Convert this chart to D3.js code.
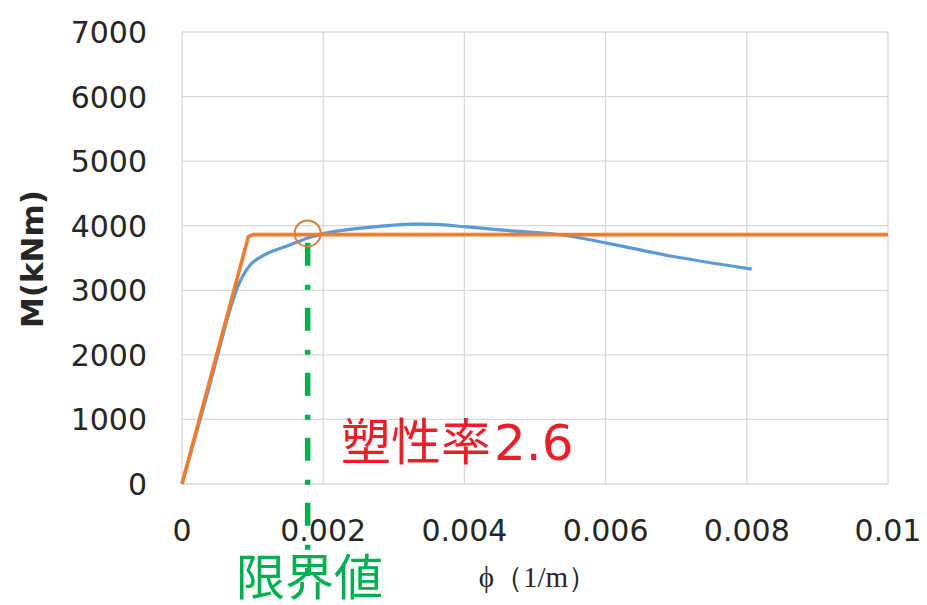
<!DOCTYPE html>
<html><head><meta charset="utf-8">
<script src="https://cdn.jsdelivr.net/npm/d3@7"></script>
<style>body{margin:0;background:#fff}</style>
</head><body>
<svg id="c" width="927" height="605"></svg>
<script>
// data
const xTicks = [0, 0.002, 0.004, 0.006, 0.008, 0.01];
const xTickLabels = ["0", "0.002", "0.004", "0.006", "0.008", "0.01"];
const yTicks = [0, 1000, 2000, 3000, 4000, 5000, 6000, 7000];
const bluePhi = [0, 0.0004, 0.00068, 0.00082, 0.00099, 0.00122, 0.00146, 0.00167, 0.00178, 0.0021, 0.0025, 0.003, 0.0033, 0.0036, 0.004, 0.0045, 0.00535, 0.006, 0.0069, 0.00807];
const blueM   = [0, 1560, 2700, 3133, 3420, 3578, 3675, 3763, 3810, 3900, 3960, 4010, 4025, 4020, 3985, 3935, 3860, 3735, 3535, 3328];
const orangePhi = [0, 0.00094, 0.00101, 0.01];
const orangeM   = [0, 3830, 3862, 3862];
const limitPhi = 0.00178;
const limitM = 3830;
const ductLabel = ["塑性率", "2.6"];
const limitLabel = "限界値";
const xTitle = "ϕ（1/m）";
const yTitle = "M(kNm)";

const svg = d3.select("#c");
const L = 182, R = 888, T = 32, B = 484;
const x = d3.scaleLinear().domain([0, 0.01]).range([L, R]);
const y = d3.scaleLinear().domain([0, 7000]).range([B, T]);

// grid
svg.append("g").selectAll("line").data(yTicks).join("line")
  .attr("x1", L).attr("x2", R).attr("y1", d => y(d)).attr("y2", d => y(d))
  .attr("stroke", "#d9d9d9").attr("stroke-width", 1.3);
svg.append("g").selectAll("line").data(xTicks).join("line")
  .attr("x1", d => x(d)).attr("x2", d => x(d)).attr("y1", T).attr("y2", B)
  .attr("stroke", "#d9d9d9").attr("stroke-width", 1.3);

// tick labels
svg.append("g").selectAll("text").data(yTicks).join("text")
  .attr("x", 147).attr("y", d => y(d) + 11)
  .attr("text-anchor", "end").attr("font-family", "DejaVu Sans").attr("font-size", 30)
  .attr("fill", "#262626").text(d => d);
svg.append("g").selectAll("text").data(xTicks).join("text")
  .attr("x", d => x(d)).attr("y", 541)
  .attr("text-anchor", "middle").attr("font-family", "DejaVu Sans").attr("font-size", 30)
  .attr("fill", "#262626").text((d, i) => xTickLabels[i]);

// titles
svg.append("text").attr("transform", "translate(43,259) rotate(-90)")
  .attr("text-anchor", "middle").attr("font-family", "DejaVu Sans").attr("font-weight", "bold")
  .attr("font-size", 31).attr("fill", "#262626").text(yTitle);
svg.append("text").attr("x", 538).attr("y", 587).attr("text-anchor", "middle")
  .attr("font-family", "Liberation Serif, DejaVu Serif").attr("font-size", 29).attr("fill", "#262626").text(xTitle);

// lines
svg.append("path").datum(bluePhi.map((p, i) => [p, blueM[i]]))
  .attr("d", d3.line().x(d => x(d[0])).y(d => y(d[1])).curve(d3.curveCatmullRom.alpha(0.5)))
  .attr("fill", "none")
  .attr("stroke", "#5b9bd5").attr("stroke-width", 3.2).attr("stroke-linejoin", "round");
svg.append("path").datum(orangePhi.map((p, i) => [p, orangeM[i]]))
  .attr("d", d3.line().x(d => x(d[0])).y(d => y(d[1]))).attr("fill", "none")
  .attr("stroke", "#ed7d31").attr("stroke-width", 3.6).attr("stroke-linejoin", "round");

// limit marker
svg.append("line").attr("x1", x(limitPhi)).attr("x2", x(limitPhi))
  .attr("y1", y(limitM) + 6).attr("y2", 576)
  .attr("stroke", "#00b050").attr("stroke-width", 5.5)
  .attr("stroke-dasharray", "23 19 5 18");
svg.append("circle").attr("cx", x(limitPhi)).attr("cy", y(3880)).attr("r", 13)
  .attr("fill", "none").attr("stroke", "#d9823b").attr("stroke-width", 2);

// annotations
const dt = svg.append("text").attr("x", 341).attr("y", 460)
  .attr("font-size", 50).attr("fill", "#e8202a");
dt.append("tspan").attr("font-family", "Noto Sans CJK JP").text(ductLabel[0]);
dt.append("tspan").attr("font-family", "DejaVu Sans").attr("dx", 3).text(ductLabel[1]);
svg.append("text").attr("x", 236).attr("y", 595)
  .attr("font-family", "Noto Sans CJK JP").attr("font-size", 49).attr("fill", "#00b050").text(limitLabel);
</script>
</body></html>
